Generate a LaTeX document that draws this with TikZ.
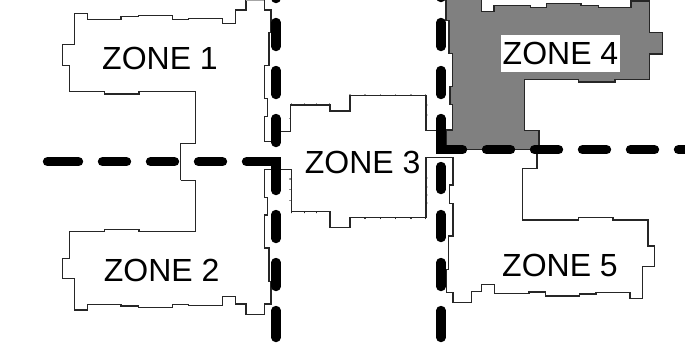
\documentclass[tikz,border=0pt]{standalone}
\usepackage{fontspec}
\setmainfont{Liberation Sans}

\tikzset{
  wall/.style={line width=1.1pt,draw=black!85,line join=miter},
  stud/.style={line width=1.1pt,draw=black!85,line cap=round},
  cut/.style={line width=9.4pt,line cap=round,black},
  zonelabel/.style={font=\fontsize{32}{36}\selectfont,inner sep=0pt}
}

\begin{document}
\begin{tikzpicture}[x=1pt,y=-1pt]

\useasboundingbox (0,0) rectangle (685,346);
\clip (0,0) rectangle (685,346);

% 画 ZONE 1 和 ZONE 2
\draw[wall] (180.7,180.3) -- (195.3,180.3) -- (195.3,231.7) -- (139,231.7) -- (139,229.7) -- (104.3,229.7) -- (104.3,231.7) -- (69.7,231.7) -- (69.7,258.3) -- (62.7,258.3) -- (62.7,278.3) -- (74.7,278.3) -- (74.7,310) -- (87.7,310) -- (87.7,304.3) -- (121,304.3) -- (121,306) -- (138.3,306) -- (138.3,307.7) -- (172.3,307.7) -- (172.3,304.3) -- (188.3,304.3) -- (188.3,305.3) -- (222.7,305.3) -- (222.7,296.3) -- (235.7,296.3) -- (235.7,304) -- (246,304) -- (246,314.3) -- (264.7,314.3) -- (264.7,304) -- (271,304) -- (271,281.7) -- (269,281.7) -- (269,248) -- (264.7,248) -- (264.7,215) -- (267.3,215) -- (267.3,197.3) -- (264.7,197.3) -- (264.7,169.3) -- (291.7,169.3);
\draw[wall] (180.7,180.3) -- (180.7,143.3) -- (195.3,143.3) -- (195.3,91.3) -- (139,91.3) -- (139,94) -- (104.3,94) -- (104.3,91.3) -- (69.7,91.3) -- (69.7,65.3) -- (62.7,65.3) -- (62.7,44.3) -- (74.7,44.3) -- (74.7,13.3) -- (87.7,13.3) -- (87.7,19.3) -- (121,19.3) -- (121,16.7) -- (138.3,16.7) -- (138.3,15.3) -- (172.3,15.3) -- (172.3,19.3) -- (188.3,19.3) -- (188.3,18.3) -- (222.7,18.3) -- (222.7,23.3) -- (235.7,23.3) -- (235.7,10) -- (246,10) -- (246,0);
\draw[wall,draw=black!35] (246,0) -- (264.3,0);
\draw[wall] (264.3,0) -- (264.3,10) -- (271,10) -- (271,32.3) -- (269,32.3) -- (269,65.7) -- (264.7,65.7) -- (264.7,98.3) -- (267.3,98.3) -- (267.3,116.3) -- (264.7,116.3) -- (264.7,141.7) -- (276,141.7) -- (276,131.7) -- (290.7,131.7);

% 画 ZONE 3
\draw[wall] (290.7,131.7) -- (290.7,105) -- (330,105) -- (330,111) -- (350,111) -- (350,95.7) -- (426,95.7) -- (426,130.3) -- (446,130.3);
\draw[wall] (291.7,169.3) -- (291.7,211.7) -- (330,211.7) -- (330,227.7) -- (350,227.7) -- (350,217.7) -- (426,217.7) -- (426,157.3) -- (453,157.3);
\foreach \x in {291.7,304.3,316.7,329.3}
  \draw[stud] (\x,104) -- (\x,104.3) (\x,212.7) -- (\x,212.4);
\foreach \x in {350,365,380.7,395.7,411,425.5}
  \draw[stud] (\x,94.9) -- (\x,95.2) (\x,218.5) -- (\x,218.2);
\foreach \y in {118.3,179,189.3,200.7}
  \draw[stud] (289.9,\y) -- (290.2,\y);
\foreach \y in {105,115,178,187,195,203}
  \draw[stud] (426.9,\y) -- (426.6,\y);

% 画 ZONE 5
\draw[wall] (453,157.3) -- (453,185) -- (449.7,185) -- (449.7,203.3) -- (453,203.3) -- (453,236) -- (448.3,236) -- (448.3,269.3) -- (446.7,269.3) -- (446.7,292.3) -- (453,292.3) -- (453,302.3) -- (471.7,302.3) -- (471.7,291.7) -- (481.7,291.7) -- (481.7,284.3) -- (494.7,284.3) -- (494.7,293.3) -- (529,293.3) -- (529,292) -- (545.3,292) -- (545.3,296) -- (579.3,296) -- (579.3,294) -- (596,294) -- (596,292.3) -- (630,292.3) -- (630,298.3) -- (642.7,298.3) -- (642.7,266.7) -- (654.7,266.7) -- (654.7,246) -- (648,246) -- (648,220) -- (613,220) -- (613,217.7) -- (578.3,217.7) -- (578.3,220) -- (522.3,220) -- (522.3,168.3) -- (537,168.3) -- (537,150);

% 画 ZONE 4
\draw[wall,fill=black!50] (446,0) -- (446,20.7) -- (449,20.7) -- (449,53.3) -- (452.7,53.3) -- (452.7,86.7) -- (450,86.7) -- (450,104.3) -- (452.7,104.3) -- (452.7,130) -- (446,130) -- (446,149.7) -- (539,149.7) -- (539,130.7) -- (524.7,130.7) -- (524.7,79.3) -- (578.3,79.3) -- (578.3,82) -- (615,82) -- (615,79.3) -- (649.7,79.3) -- (649.7,54) -- (662.3,54) -- (662.3,32.7) -- (649.7,32.7) -- (649.7,1) -- (631,1) -- (631,7.3) -- (598.3,7.3) -- (598.3,5.3) -- (581,5.3) -- (581,3.3) -- (546.7,3.3) -- (546.7,7.3) -- (530.7,7.3) -- (530.7,5.7) -- (494,5.7) -- (494,11.3) -- (481.7,11.3) -- (481.7,0);

% 画粗虚线
\foreach \a/\b in {-20/-1.5,22.5/46.5,70.5/94.5,118.5/142.5,214.5/238.5,262.5/286.5,310.5/337.5}
  \draw[cut] (276,\a) -- (276,\b);
\draw[cut] (47.5,161.7) -- (78.5,161.7);
\foreach \a/\b in {102.5/126.5,150.5/174.5,198.5/222.5}
  \draw[cut] (\a,161.7) -- (\b,161.7);
\draw[cut] (246.5,161.7) -- (276,161.7) -- (276,190.5);
\foreach \a/\b in {-20/-2.5,22.5/46.5,70.5/94.5,166.5/189.5,214.5/237.5,262.5/286.5,310.5/337.5}
  \draw[cut] (441,\a) -- (441,\b);
\draw[cut] (441,118.5) -- (441,149.7) -- (462.5,149.7);
\foreach \a/\b in {486.5/510.5,534.5/558.5,582.5/606.5,630.5/654.5,678.5/700}
  \draw[cut] (\a,149.7) -- (\b,149.7);

% 标记文字
\node[zonelabel] (zone1) at (160,58) {ZONE 1};
\node[zonelabel] (zone2) at (161.7,270) {ZONE 2};
\node[zonelabel] (zone3) at (362.7,162) {ZONE 3};
\node[zonelabel,fill=white,minimum width=119pt,minimum height=37pt] (zone4) at (560.5,53.5) {ZONE 4};
\node[zonelabel] (zone5) at (560,265) {ZONE 5};

\end{tikzpicture}
\end{document}
